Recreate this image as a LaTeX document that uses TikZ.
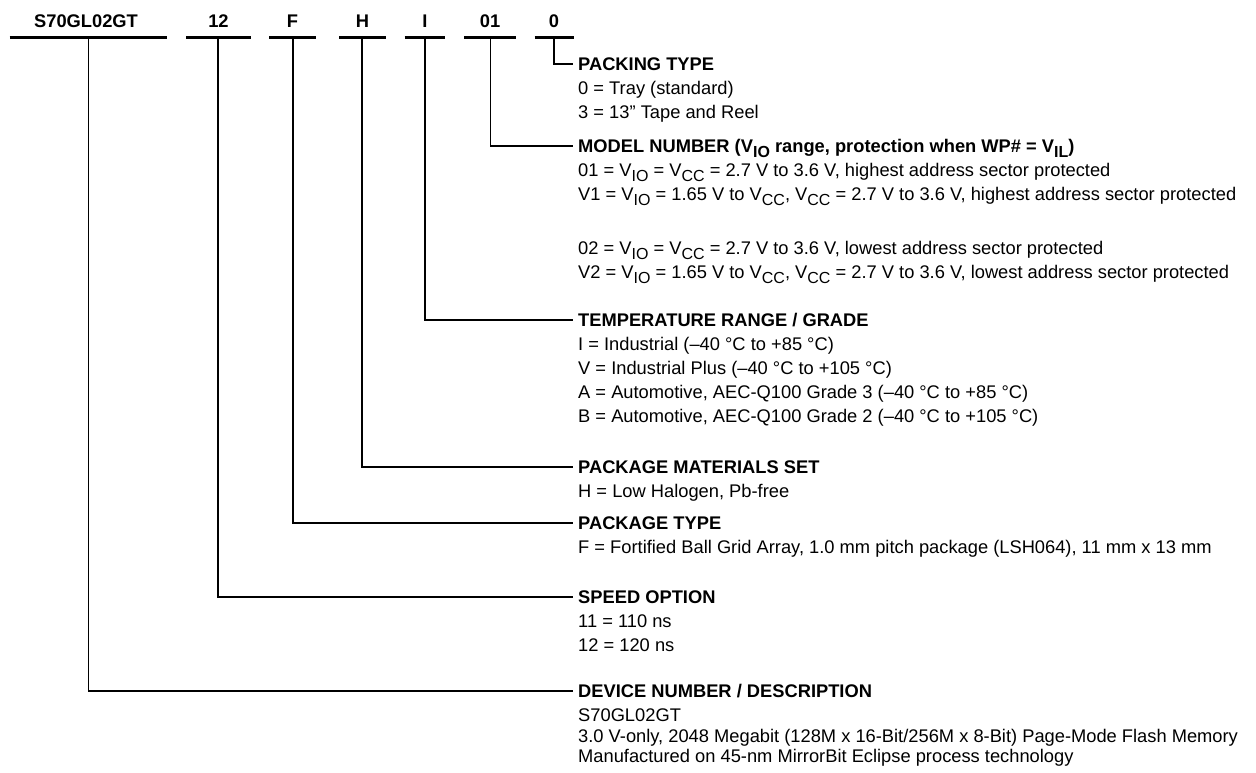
\documentclass[tikz,border=0pt]{standalone}
\usepackage{fontspec}
\setmainfont{Liberation Sans}
\newcommand\sbs[1]{\raisebox{-0.28em}{\fontsize{16}{16}\selectfont #1}}
\begin{document}
\begin{tikzpicture}[x=1pt,y=-1pt,
  every node/.style={inner sep=0pt,font=\fontsize{18.3}{22}\selectfont},
  hd/.style={anchor=base west,font=\fontsize{18.3}{22}\selectfont\bfseries},
  txt/.style={anchor=base west},
  lab/.style={anchor=base,font=\fontsize{18.3}{22}\selectfont\bfseries},
  bar/.style={line width=3pt},
  conn/.style={line width=1.6pt},
  thin/.style={line width=1.1pt}]
\useasboundingbox (0,0) rectangle (1256,772);
% top labels
\node[lab] (l1) at (86,27.6) {S70GL02GT};
\node[lab] (l2) at (218.5,27.6) {12};
\node[lab] (l3) at (292.5,27.6) {F};
\node[lab] (l4) at (362.5,27.6) {H};
\node[lab] (l5) at (425,27.6) {I};
\node[lab] (l6) at (490,27.6) {01};
\node[lab] (l7) at (554,27.6) {0};
% bars
\draw[bar] (9.6,37.5) -- (167,37.5);
\draw[bar] (186,37.5) -- (251,37.5);
\draw[bar] (269,37.5) -- (316,37.5);
\draw[bar] (339,37.5) -- (386,37.5);
\draw[bar] (404.5,37.5) -- (445,37.5);
\draw[bar] (464,37.5) -- (516,37.5);
\draw[bar] (534.6,37.5) -- (574,37.5);
\coordinate (v1) at (88.8,37.5);
\coordinate (v2) at (218,37.5);
\coordinate (v3) at (293,37.5);
\coordinate (v4) at (362,37.5);
\coordinate (v5) at (425,37.5);
\coordinate (v6) at (490.6,37.5);
\coordinate (v7) at (554,37.5);
% PACKING TYPE
\node[hd] (h7) at (578,70.6) {PACKING TYPE};
\node[txt] (t71) at (578,94.6) {0 = Tray (standard)};
\node[txt] (t72) at (578,118.6) {3 = 13” Tape and Reel};
% MODEL NUMBER
\node[hd] (h6) at (578,152.6) {MODEL NUMBER (V\sbs{IO} range, protection when WP\# = V\sbs{IL})};
\node[txt] (t61) at (578,176.6) {01 = V\sbs{IO} = V\sbs{CC} = 2.7 V to 3.6 V, highest address sector protected};
\node[txt] (t62) at (578,200.6) {V1 = V\sbs{IO} = 1.65 V to V\sbs{CC}, V\sbs{CC} = 2.7 V to 3.6 V, highest address sector protected};
\node[txt] (t63) at (578,254.6) {02 = V\sbs{IO} = V\sbs{CC} = 2.7 V to 3.6 V, lowest address sector protected};
\node[txt] (t64) at (578,278.6) {V2 = V\sbs{IO} = 1.65 V to V\sbs{CC}, V\sbs{CC} = 2.7 V to 3.6 V, lowest address sector protected};
% TEMPERATURE
\node[hd] (h5) at (578,326.6) {TEMPERATURE RANGE / GRADE};
\node[txt] (t51) at (578,350.6) {I = Industrial (–40 °C to +85 °C)};
\node[txt] (t52) at (578,374.6) {V = Industrial Plus (–40 °C to +105 °C)};
\node[txt] (t53) at (578,398.6) {A = Automotive, AEC-Q100 Grade 3 (–40 °C to +85 °C)};
\node[txt] (t54) at (578,422.6) {B = Automotive, AEC-Q100 Grade 2 (–40 °C to +105 °C)};
% PACKAGE MATERIALS
\node[hd] (h4) at (578,473.6) {PACKAGE MATERIALS SET};
\node[txt] (t41) at (578,497.6) {H = Low Halogen, Pb-free};
% PACKAGE TYPE
\node[hd] (h3) at (578,529.6) {PACKAGE TYPE};
\node[txt] (t31) at (578,553.6) {F = Fortified Ball Grid Array, 1.0 mm pitch package (LSH064), 11 mm x 13 mm};
% SPEED
\node[hd] (h2) at (578,603.6) {SPEED OPTION};
\node[txt] (t21) at (578,627.6) {11 = 110 ns};
\node[txt] (t22) at (578,651.6) {12 = 120 ns};
% DEVICE
\node[hd] (h1) at (578,697.6) {DEVICE NUMBER / DESCRIPTION};
\node[txt] (t11) at (578,721.6) {S70GL02GT};
\node[txt] (t12) at (578,742.6) {3.0 V-only, 2048 Megabit (128M x 16-Bit/256M x 8-Bit) Page-Mode Flash Memory};
\node[txt] (t13) at (578,762.6) {Manufactured on 45-nm MirrorBit Eclipse process technology};
% connectors
\draw[thin] (v7) |- ([xshift=-5pt,yshift=6.6pt]h7.base west);
\draw[conn] (v6) |- ([xshift=-5pt,yshift=6.6pt]h6.base west);
\draw[conn] (v5) |- ([xshift=-5pt,yshift=6.6pt]h5.base west);
\draw[thin] (v4) |- ([xshift=-5pt,yshift=6.6pt]h4.base west);
\draw[conn] (v3) |- ([xshift=-5pt,yshift=6.6pt]h3.base west);
\draw[conn] (v2) |- ([xshift=-5pt,yshift=6.6pt]h2.base west);
\draw[thin] (v1) |- ([xshift=-5pt,yshift=6.6pt]h1.base west);
\end{tikzpicture}
\end{document}
